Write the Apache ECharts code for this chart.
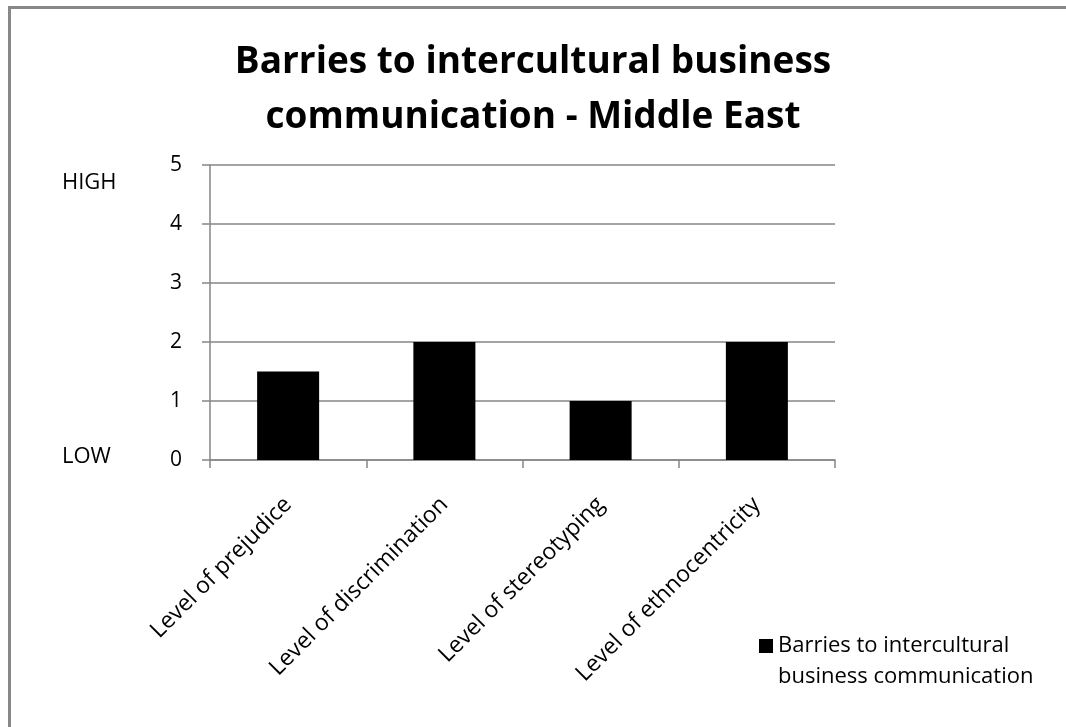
<!DOCTYPE html>
<html>
<head>
<meta charset="utf-8">
<script src="https://cdn.jsdelivr.net/npm/echarts@6/dist/echarts.min.js"></script>
<style>
  html, body { margin: 0; padding: 0; background: #fff; }
  #frame { position: absolute; left: 8px; top: 6px; width: 1200px; height: 900px;
           border: 3px solid #888; box-sizing: border-box; }
  #chart { position: absolute; left: 0; top: 0; width: 1066px; height: 727px; }
</style>
</head>
<body>
<div id="frame"></div>
<div id="chart"></div>
<script>
// Chart content
const titleLines = ['Barries to intercultural business', 'communication - Middle East'];
const categories = ['Level of prejudice', 'Level of discrimination', 'Level of stereotyping', 'Level of ethnocentricity'];
const seriesName = 'Barries to intercultural business communication';
const legendLines = ['Barries to intercultural', 'business communication'];
const values = [1.5, 2, 1, 2];
const yTicks = { min: 0, max: 5, interval: 1 };
const scaleWords = { high: 'HIGH', low: 'LOW' };

const TITLE_FONT = "'Open Sans', sans-serif";
const BODY_FONT = "'Open Sans', sans-serif";

const chart = echarts.init(document.getElementById('chart'), null, { renderer: 'canvas' });

chart.setOption({
  backgroundColor: 'transparent',
  animation: false,
  title: {
    text: titleLines.join('\n'),
    left: 528,
    top: 30,
    textAlign: 'center',
    textStyle: {
      fontFamily: TITLE_FONT,
      fontWeight: 'bold',
      fontSize: 37,
      lineHeight: 55,
      color: '#000'
    }
  },
  grid: { left: 210, right: 231, top: 165, bottom: 267, containLabel: false },
  legend: {
    data: [seriesName],
    left: 754,
    top: 599,
    orient: 'vertical',
    icon: 'rect',
    itemWidth: 14,
    itemHeight: 14,
    itemGap: 6,
    // an empty first row keeps the swatch level with the first text line
    formatter: () => '{e| }\n{a|' + legendLines[0] + '}\n{a|' + legendLines[1] + '}',
    textStyle: {
      color: '#000',
      rich: {
        e: { fontFamily: BODY_FONT, fontSize: 22, lineHeight: 31, color: '#000' },
        a: { fontFamily: BODY_FONT, fontSize: 22, lineHeight: 31, color: '#000' }
      }
    }
  },
  xAxis: {
    type: 'category',
    data: categories,
    axisLine: { lineStyle: { color: '#868686', width: 1.5 } },
    axisTick: { show: true, length: 8, lineStyle: { color: '#868686', width: 1.5 } },
    axisLabel: {
      rotate: 45,
      margin: 41,
      fontFamily: BODY_FONT,
      fontSize: 23,
      color: '#000',
      interval: 0
    }
  },
  yAxis: {
    type: 'value',
    min: yTicks.min,
    max: yTicks.max,
    interval: yTicks.interval,
    axisLine: { show: true, lineStyle: { color: '#868686', width: 1.5 } },
    axisTick: { show: true, length: 8, lineStyle: { color: '#868686', width: 1.5 } },
    splitLine: { show: true, lineStyle: { color: '#868686', width: 1.5 } },
    axisLabel: {
      margin: 28,
      fontFamily: BODY_FONT,
      fontSize: 21,
      color: '#000'
    }
  },
  graphic: [
    { type: 'text', x: 62, y: 183,
      style: { text: scaleWords.high, font: "22px " + BODY_FONT, fill: '#000', verticalAlign: 'middle' } },
    { type: 'text', x: 62, y: 457,
      style: { text: scaleWords.low, font: "22px " + BODY_FONT, fill: '#000', verticalAlign: 'middle' } }
  ],
  series: [{
    name: seriesName,
    type: 'bar',
    data: values,
    barWidth: 62,
    itemStyle: { color: '#000' }
  }]
});
</script>
</body>
</html>
